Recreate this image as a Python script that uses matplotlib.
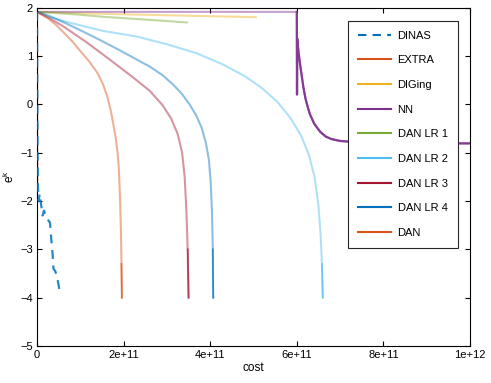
import matplotlib
matplotlib.use("Agg")
import matplotlib.pyplot as plt
import numpy as np

plt.rcParams['font.family'] = ['Liberation Sans', 'DejaVu Sans']

# ---- data (x in units of 1e12 cost) ----
dinas_x = [0.0, 0.0004, 0.0008, 0.0012, 0.002, 0.004, 0.006, 0.009, 0.013, 0.016, 0.022, 0.030, 0.033, 0.036, 0.038, 0.042, 0.046, 0.053]
dinas_y = [1.91, 1.0, 0.0, -1.0, -1.7, -2.0, -1.85, -2.05, -2.30, -2.20, -2.35, -2.45, -2.80, -3.10, -3.40, -3.45, -3.55, -3.90]

extra_x = [0.0, 0.0003, 0.0006, 0.001]
extra_y = [1.91, 0.5, -0.8, -1.6]

diging_x = [0.0, 0.1, 0.2, 0.3, 0.4, 0.505]
diging_y = [1.91, 1.88, 1.86, 1.84, 1.82, 1.80]

nn_x = [0.0, 0.2, 0.4, 0.600, 0.6005, 0.601, 0.602, 0.605, 0.608, 0.612, 0.615, 0.620, 0.625, 0.630, 0.640,
        0.654, 0.667, 0.680, 0.700, 0.730, 0.800, 0.900, 1.0]
nn_y = [1.91, 1.91, 1.91, 1.91, 0.20, 1.36, 1.25, 1.00, 0.80, 0.55, 0.36, 0.12, -0.05, -0.20, -0.40,
        -0.57, -0.67, -0.72, -0.76, -0.78, -0.80, -0.81, -0.81]

lr1_x = [0.0, 0.05, 0.1, 0.15, 0.2, 0.25, 0.3, 0.346]
lr1_y = [1.91, 1.88, 1.85, 1.81, 1.78, 1.75, 1.72, 1.69]

lr2_x = [0.0, 0.03, 0.07, 0.15, 0.23, 0.30, 0.37, 0.43, 0.48, 0.52, 0.555, 0.585, 0.61, 0.628, 0.641, 0.650, 0.655, 0.658, 0.660]
lr2_y = [1.91, 1.80, 1.70, 1.52, 1.40, 1.24, 1.05, 0.82, 0.58, 0.33, 0.05, -0.28, -0.65, -1.05, -1.5, -2.1, -2.7, -3.3, -4.0]

lr3_x = [0.0, 0.03, 0.059, 0.113, 0.167, 0.221, 0.26, 0.29, 0.31, 0.325, 0.335, 0.341, 0.345, 0.348, 0.350]
lr3_y = [1.91, 1.77, 1.62, 1.29, 0.93, 0.56, 0.28, -0.02, -0.30, -0.62, -1.0, -1.5, -2.2, -3.0, -4.0]

lr4_x = [0.0, 0.03, 0.065, 0.10, 0.145, 0.19, 0.225, 0.26, 0.29, 0.315, 0.335, 0.352, 0.367, 0.38, 0.39, 0.397, 0.401, 0.404, 0.406, 0.407]
lr4_y = [1.91, 1.82, 1.68, 1.53, 1.33, 1.12, 0.95, 0.78, 0.60, 0.40, 0.21, 0.0, -0.22, -0.48, -0.80, -1.15, -1.6, -2.2, -3.0, -4.0]

dan_x = [0.0, 0.0247, 0.044, 0.063, 0.0824, 0.102, 0.121, 0.140, 0.152, 0.163, 0.171, 0.177, 0.182, 0.186, 0.189, 0.192, 0.194, 0.195, 0.196]
dan_y = [1.91, 1.78, 1.64, 1.47, 1.29, 1.08, 0.88, 0.64, 0.42, 0.14, -0.16, -0.45, -0.71, -1.0, -1.33, -2.0, -2.7, -3.3, -4.0]

labels = ["DINAS", "EXTRA", "DIGing", "NN", "DAN LR 1", "DAN LR 2", "DAN LR 3", "DAN LR 4", "DAN"]
colors = ["#0072BD", "#D95319", "#EDB120", "#7E2F8E", "#77AC30", "#4DBEEE", "#A2142F", "#0072BD", "#D95319"]
series = [(extra_x, extra_y), (diging_x, diging_y), (nn_x, nn_y), (lr1_x, lr1_y),
          (lr2_x, lr2_y), (lr3_x, lr3_y), (lr4_x, lr4_y), (dan_x, dan_y)]

fig = plt.figure(figsize=(4.91, 3.83), dpi=100)
ax = fig.add_axes([0.0754, 0.0966, 0.8818, 0.8838])

scale = 1e12
handles = []
for (xs, ys), lab, col in zip(series, labels[1:], colors[1:]):
    xs = np.array(xs) * scale
    ys = np.array(ys)
    ax.plot(xs, ys, color=col, lw=1.5, alpha=0.45, zorder=2, solid_joinstyle='round')
    if lab == "NN":
        m = xs >= 0.6 * scale
        ax.plot(xs[m], ys[m], color=col, lw=1.6, alpha=0.9, zorder=3)
    else:
        m = ys <= -2.9
        if m.sum() > 0:
            idx = np.where(m)[0]
            ax.plot(xs[idx], ys[idx], color=col, lw=1.2, alpha=0.7, zorder=3)
    handles.append(plt.Line2D([], [], color=col, lw=1.5, label=lab))

ax.plot(np.array(dinas_x) * scale, dinas_y, color=colors[0], lw=1.6, ls=(0, (4, 3)), alpha=0.85, zorder=4)
handles.insert(0, plt.Line2D([], [], color=colors[0], lw=1.5, ls=(0, (4, 3)), label="DINAS"))

ax.set_xlim(0, 1e12)
ax.set_ylim(-5, 2)
ax.set_xticks([0, 2e11, 4e11, 6e11, 8e11, 1e12])
ax.set_xticklabels(["0", "2e+11", "4e+11", "6e+11", "8e+11", "1e+12"])
ax.set_yticks([-5, -4, -3, -2, -1, 0, 1, 2])
ax.tick_params(direction='in', top=True, right=True, labelsize=8, length=3.5, width=0.8, pad=3)
for s in ax.spines.values():
    s.set_linewidth(0.8)
ax.set_xlabel("cost", fontsize=8.5, labelpad=1)
ax.set_ylabel("e$^{\\mathregular{k}}$", fontsize=8.5, labelpad=2)

leg = ax.legend(handles=handles, loc='upper right', bbox_to_anchor=(0.984, 0.978),
                fontsize=8, labelspacing=1.32, handlelength=3.0, handletextpad=0.55,
                borderpad=0.9, fancybox=False, framealpha=1, edgecolor='#262626')
leg.get_frame().set_linewidth(0.8)

fig.savefig("out.png", dpi=100)
